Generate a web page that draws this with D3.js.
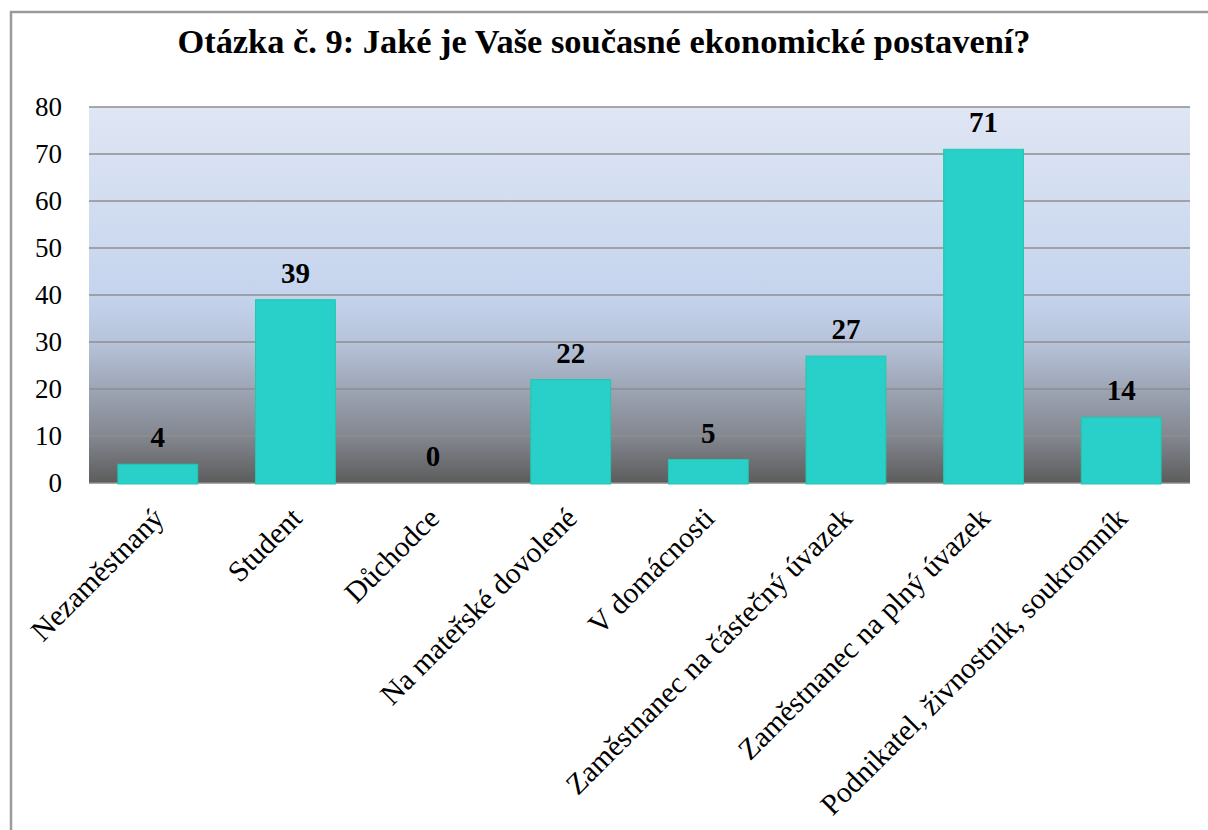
<!DOCTYPE html>
<html><head><meta charset="utf-8">
<script src="https://cdn.jsdelivr.net/npm/d3@7/dist/d3.min.js"></script>
<style>body{margin:0;background:#fff;} svg{display:block;} svg text{font-family:"Liberation Serif","Times New Roman",Times,serif;}</style>
</head><body>
<script>
const title = "Otázka č. 9: Jaké je Vaše současné ekonomické postavení?";
const categories = ["Nezaměstnaný","Student","Důchodce","Na mateřské dovolené","V domácnosti","Zaměstnanec na částečný úvazek","Zaměstnanec na plný úvazek","Podnikatel, živnostník, soukromník"];
const values = [4,39,0,22,5,27,71,14];
const yTicks = [0,10,20,30,40,50,60,70,80];

const W = 1208, H = 830;
const svg = d3.select("body").append("svg").attr("width",W).attr("height",H);
const m = {left:89, right:1190, top:107, bottom:483};

const defs = svg.append("defs");
const g = defs.append("linearGradient").attr("id","bg").attr("x1",0).attr("y1",0).attr("x2",0).attr("y2",1);
[[0,"#dfe6f4"],[0.5,"#c5d4ed"],[0.625,"#b6c3da"],[0.75,"#9da5b5"],[0.875,"#838790"],[1,"#5c5c5c"]]
  .forEach(([o,c])=>g.append("stop").attr("offset",o).attr("stop-color",c));

svg.append("rect").attr("x",11).attr("y",12).attr("width",1230).attr("height",900)
  .attr("fill","#fff").attr("stroke","#9a9a9a").attr("stroke-width",2.5);

const x = d3.scaleBand().domain(categories).range([m.left,m.right]).paddingInner(0.42).paddingOuter(0.21);
const y = d3.scaleLinear().domain([0,80]).range([m.bottom,m.top]);

svg.append("rect").attr("x",m.left).attr("y",m.top).attr("width",m.right-m.left).attr("height",m.bottom-m.top).attr("fill","url(#bg)");

svg.append("g").selectAll("line").data(yTicks).join("line")
  .attr("x1",m.left).attr("x2",m.right).attr("y1",d=>y(d)).attr("y2",d=>y(d))
  .attr("stroke",d=>d===0?"#8a8a8a":"#8e8e8e").attr("stroke-width",1.5);

const yAxis = d3.axisLeft(y).tickValues(yTicks).tickSize(0).tickPadding(0);
const ya = svg.append("g").attr("transform",`translate(62,0)`).call(yAxis).attr("font-family",null);
ya.select(".domain").remove();
ya.selectAll("text").style("font-size","27px").attr("fill","#000");

svg.append("g").selectAll("rect").data(values).join("rect")
  .attr("x",(d,i)=>x(categories[i])).attr("width",x.bandwidth())
  .attr("y",d=>y(d)).attr("height",d=>y(0)-y(d)+1)
  .attr("fill",d=>d>0?"#29d0c9":"none").attr("stroke",d=>d>0?"#20c8ac":"none").attr("stroke-width",1);

svg.append("g").selectAll("text").data(values).join("text")
  .attr("x",(d,i)=>x(categories[i])+x.bandwidth()/2).attr("y",d=>y(d)-17)
  .attr("text-anchor","middle").style("font-weight","bold").style("font-size","29px")
  .text(d=>d);

const xa = svg.append("g").attr("transform",`translate(0,${m.bottom})`).call(d3.axisBottom(x).tickSize(0).tickPadding(0)).attr("font-family",null);
xa.select(".domain").remove();
xa.selectAll("text").style("font-size","29.5px").attr("fill","#000")
  .attr("text-anchor","end").attr("dy",0)
  .attr("transform","translate(8,37) rotate(-45)")
  .attr("y",0).attr("x",0);

svg.append("text").attr("x",604).attr("y",53).attr("text-anchor","middle")
  .style("font-weight","bold").style("font-size","34.4px").text(title);
</script>
</body></html>
